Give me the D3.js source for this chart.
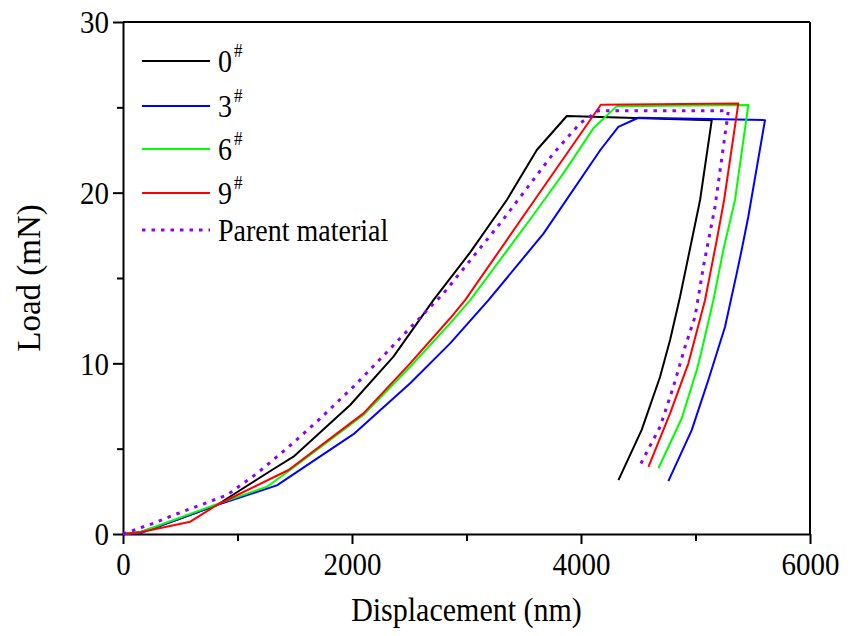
<!DOCTYPE html>
<html>
<head>
<meta charset="utf-8">
<script src="https://cdn.jsdelivr.net/npm/d3@7"></script>
<style>
  body { margin: 0; background: #fff; }
  text { font-family: "Liberation Serif", "Times New Roman", serif; fill: #000; }
  text.st { transform-box: fill-box; transform-origin: center; transform: scaleY(1.12); }
</style>
</head>
<body>
<div id="chart"></div>
<script>
// load-displacement curves (nm, mN)
const x0 = [0, 150, 500, 820, 1301, 1489, 1984, 2362, 2711, 3032, 3352, 3614, 3876, 5142, 5040, 4967, 4865, 4778, 4690, 4530, 4327];
const y0 = [0, 0.1, 0.9, 1.7, 3.75, 4.53, 7.56, 10.39, 13.7, 16.5, 19.57, 22.5, 24.49, 24.25, 19.57, 17.2, 13.9, 11.37, 9.2, 6.1, 3.16];

const x3 = [0, 150, 820, 1344, 2013, 2508, 2857, 3192, 3672, 4169, 4326, 4501, 5607, 5461, 5403, 5360, 5258, 5112, 4967, 4763];
const y3 = [0, 0.04, 1.7, 2.85, 5.85, 8.83, 11.17, 13.7, 17.6, 22.5, 23.86, 24.39, 24.25, 18.59, 16.64, 15.27, 12.14, 9.02, 6.09, 3.1];

const x6 = [0, 150, 820, 1257, 1460, 2100, 2508, 2857, 3032, 3584, 3846, 4108, 4312, 5461, 5345, 5243, 5156, 5055, 5011, 4880, 4676];
const y6 = [0, 0.1, 1.75, 2.77, 3.75, 6.97, 9.8, 12.34, 13.7, 18.69, 21.13, 23.77, 25.07, 25.13, 19.57, 16.64, 13.7, 10.78, 9.6, 6.78, 3.85];

const x9 = [0, 150, 588, 820, 1446, 2100, 2508, 2857, 2988, 3584, 4173, 5374, 5250, 5185, 5083, 4938, 4778, 4589];
const y9 = [0, 0.1, 0.72, 1.7, 3.75, 7.07, 10.0, 12.64, 13.7, 19.47, 25.15, 25.23, 19.57, 17.2, 13.7, 10.0, 7.07, 3.94];

const xP = [0, 267, 442, 908, 1170, 1432, 1693, 2043, 2392, 2799, 3294, 3759, 3992, 4150, 5287, 5171, 5069, 4996, 4909, 4807, 4691, 4501];
const yP = [0, 0.63, 1.11, 2.28, 3.55, 5.02, 6.58, 8.83, 11.27, 14.1, 18.2, 22.3, 24.06, 24.8, 24.8, 19.2, 15.66, 12.73, 10.97, 8.63, 6.29, 3.85];

const names = ["0", "3", "6", "9", "Parent material"];
const colors = ["#000000", "#0000ff", "#00ff00", "#ff0000", "#8b00ff"];
const xTicks = [0, 2000, 4000, 6000];
const yTicks = [0, 10, 20, 30];

const series = [[x0, y0], [x3, y3], [x6, y6], [x9, y9], [xP, yP]].map(
  (s, i) => ({ name: names[i], color: colors[i], dotted: i === 4,
               pts: s[0].map((v, j) => [v, s[1][j]]) }));

const margin = {top: 22, right: 47, bottom: 102, left: 123},
    width = 857 - margin.left - margin.right,
    height = 636 - margin.top - margin.bottom;

const svg = d3.select("#chart")
  .append("svg")
    .attr("width", 857)
    .attr("height", 636)
  .append("g")
    .attr("transform", `translate(${margin.left},${margin.top})`);

const x = d3.scaleLinear().domain([0, 6000]).range([0, width]);
const y = d3.scaleLinear().domain([0, 30]).range([height, 0]);

// minor ticks
svg.append("g")
  .attr("transform", `translate(0,${height})`)
  .call(d3.axisBottom(x).tickValues([1000, 3000, 5000]).tickSize(7).tickFormat(""))
  .call(g => g.select(".domain").remove())
  .selectAll("line").attr("stroke-width", 2);
svg.append("g")
  .call(d3.axisLeft(y).tickValues([5, 15, 25]).tickSize(6).tickFormat(""))
  .call(g => g.select(".domain").remove())
  .selectAll("line").attr("stroke-width", 2);

const xAxis = svg.append("g")
  .attr("transform", `translate(0,${height})`)
  .call(d3.axisBottom(x).tickValues(xTicks).tickSize(10).tickSizeOuter(0)
    .tickPadding(9).tickFormat(d3.format("d")));
const yAxis = svg.append("g")
  .call(d3.axisLeft(y).tickValues(yTicks).tickSize(10).tickSizeOuter(0)
    .tickPadding(4).tickFormat(d3.format("d")));

[xAxis, yAxis].forEach(a => {
  a.select(".domain").attr("stroke-width", 2);
  a.selectAll("line").attr("stroke-width", 2);
  a.selectAll("text").attr("font-size", 29).attr("class", "st");
});
yAxis.selectAll("text").attr("dy", "0.34em");

// frame top and right
svg.append("line").attr("x1", 0).attr("x2", width).attr("y1", 0).attr("y2", 0)
  .attr("stroke", "#000").attr("stroke-width", 2);
svg.append("line").attr("x1", width).attr("x2", width).attr("y1", 0).attr("y2", height)
  .attr("stroke", "#000").attr("stroke-width", 2);

const line = d3.line().x(d => x(d[0])).y(d => y(d[1]));

svg.selectAll(".curve")
  .data(series)
  .join("path")
    .attr("class", "curve")
    .attr("d", d => line(d.pts))
    .attr("fill", "none")
    .attr("stroke", d => d.color)
    .attr("stroke-width", d => d.dotted ? 3 : 2)
    .attr("stroke-dasharray", d => d.dotted ? "3.5,6" : null)
    .attr("stroke-linejoin", "round");

// axis titles
svg.append("text")
  .attr("class", "st")
  .attr("x", width / 2).attr("y", height + 86)
  .attr("text-anchor", "middle").attr("font-size", 30)
  .text("Displacement (nm)");
svg.append("g")
  .attr("transform", `translate(${-margin.left + 40},${height / 2}) rotate(-90)`)
  .append("text")
  .attr("text-anchor", "middle").attr("font-size", 33)
  .text("Load (mN)");

// legend
const rowY = [39, 84, 127, 171, 208];
const legend = svg.selectAll(".leg")
  .data(series)
  .join("g")
    .attr("class", "leg")
    .attr("transform", (d, i) => `translate(19,${rowY[i]})`);
legend.append("line")
  .attr("x1", 0).attr("x2", 68)
  .attr("stroke", d => d.color)
  .attr("stroke-width", d => d.dotted ? 3 : 2)
  .attr("stroke-dasharray", d => d.dotted ? "3.5,6" : null);
const lt = legend.append("text")
  .attr("class", "st")
  .attr("x", 76).attr("y", 10)
  .attr("font-size", 28);
lt.append("tspan").text(d => d.name);
lt.filter(d => !d.dotted).append("tspan")
  .attr("font-size", 17).attr("dy", -14).attr("dx", 2)
  .text("#");
</script>
</body>
</html>
